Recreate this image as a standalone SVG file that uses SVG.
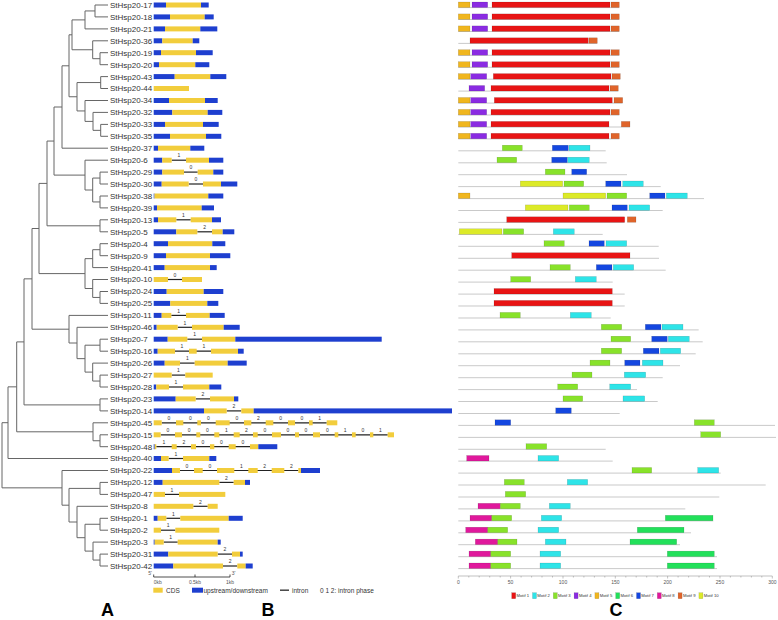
<svg xmlns="http://www.w3.org/2000/svg" width="778" height="620" viewBox="0 0 778 620">
<style>
.lb{font:8px "Liberation Sans",Arial,sans-serif;fill:#333}
.t{fill:none;stroke:#666;stroke-width:1}
.u{fill:#1e3fcf}
.c{fill:#f2cd3c}
.i{stroke:#222;stroke-width:1.2}
.p{font:5px "Liberation Sans",Arial,sans-serif;fill:#333;text-anchor:middle}
.g{stroke:#bbb;stroke-width:0.8}
.m1,.m2,.m3,.m4,.m5,.m6,.m7,.m8,.m9,.m10{stroke:#000;stroke-opacity:.25;stroke-width:.4}
.m1{fill:#e81414}.m2{fill:#2ee4e8}.m3{fill:#88e22a}.m4{fill:#8a2be2}.m5{fill:#f0b61e}
.m6{fill:#22e05a}.m7{fill:#1447e0}.m8{fill:#e0189c}.m9{fill:#e0642a}.m10{fill:#dcea28}
.sm{font:5px "Liberation Sans",Arial,sans-serif;fill:#555}
.lg{font:6.5px "Liberation Sans",Arial,sans-serif;fill:#333}
.lc{font:4.2px "Liberation Sans",Arial,sans-serif;fill:#333}
.big{font:bold 18px "Liberation Sans",Arial,sans-serif;fill:#000;text-anchor:middle}
</style>
<g id="connectors">
<path class="t" d="M95,5V16.9M95,5H108M95,16.9H108
M85,10.95V28.9M85,10.95H95M85,28.9H108
M100,52.7V64.7M100,52.7H108M100,64.7H108
M92.7,40.8V58.7M92.7,40.8H108M92.7,58.7H100
M72,19.9V49.75M72,19.9H85M72,49.75H92.7
M100.7,76.6V88.5M100.7,76.6H108M100.7,88.5H108
M100.7,124.4V136.3M100.7,124.4H108M100.7,136.3H108
M93,112.4V130.35M93,112.4H108M93,130.35H100.7
M85,100.5V121.4M85,100.5H108M85,121.4H93
M77,82.55V110.95M77,82.55H100.7M77,110.95H85
M69,34.8V96.75M69,34.8H72M69,96.75H77
M62,65.8V148.2M62,65.8H69M62,148.2H108
M100,172.1V184M100,172.1H108M100,184H108
M100,196V207.9M100,196H108M100,207.9H108
M92.7,178.05V201.95M92.7,178.05H100M92.7,201.95H100
M85,160.2V190M85,160.2H108M85,190H92.7
M54,107V175.1M54,107H62M54,175.1H85
M100,219.8V231.8M100,219.8H108M100,231.8H108
M47,141.05V225.8M47,141.05H54M47,225.8H100
M100,243.7V255.7M100,243.7H108M100,255.7H108
M92.7,249.7V267.6M92.7,249.7H100M92.7,267.6H108
M100,291.5V303.4M100,291.5H108M100,303.4H108
M92.7,279.5V297.45M92.7,279.5H108M92.7,297.45H100
M85,258.65V288.5M85,258.65H92.7M85,288.5H92.7
M39,183.4V273.6M39,183.4H47M39,273.6H85
M100,339.2V351.2M100,339.2H108M100,351.2H108
M100,375.1V387M100,375.1H108M100,387H108
M92.7,363.1V381.05M92.7,363.1H108M92.7,381.05H100
M85,345.2V372.1M85,345.2H100M85,372.1H92.7
M77,327.3V358.65M77,327.3H108M77,358.65H85
M69,315.4V343M69,315.4H108M69,343H77
M32,228.5V329.2M32,228.5H39M32,329.2H69
M100,398.9V410.9M100,398.9H108M100,410.9H108
M24,278.85V404.9M24,278.85H32M24,404.9H100
M100,434.8V446.7M100,434.8H108M100,446.7H108
M93,422.8V440.75M93,422.8H108M93,440.75H100
M16.7,341.9V431.8M16.7,341.9H24M16.7,431.8H93
M8,386.85V458.5M8,386.85H16.7M8,458.5H108
M100,482.4V494.4M100,482.4H108M100,494.4H108
M100,518.3V530.2M100,518.3H108M100,530.2H108
M100,554.1V566M100,554.1H108M100,566H108
M93,542.1V560.05M93,542.1H108M93,560.05H100
M85,524.25V551.1M85,524.25H100M85,551.1H93
M77,506.3V537.7M77,506.3H108M77,537.7H85
M69,488.4V522M69,488.4H100M69,522H77
M62,470.5V505.2M62,470.5H108M62,505.2H69
M2,422.7V487.85M2,422.7H8M2,487.85H62"/>
</g>

<g id="StHsp20-17" transform="translate(0,5)"><text class="lb" x="110" y="2.9">StHsp20-17</text>
<rect class="u" x="153.7" y="-2.5" width="12.3" height="5"/><rect class="c" x="166" y="-2.5" width="35" height="5"/><rect class="u" x="201" y="-2.5" width="7.7" height="5"/>
<line class="g" x1="458.3" y1="2.6" x2="619.3" y2="2.6"/>
<rect class="m5" x="458.3" y="-3" width="11.7" height="5.5"/><rect class="m4" x="472" y="-3" width="15.7" height="5.5"/><rect class="m1" x="492" y="-3" width="118" height="5.5"/><rect class="m9" x="611" y="-3" width="8.3" height="5.5"/></g>

<g id="StHsp20-18" transform="translate(0,16.9)"><text class="lb" x="110" y="2.9">StHsp20-18</text>
<rect class="u" x="153.7" y="-2.5" width="16.3" height="5"/><rect class="c" x="170" y="-2.5" width="34.7" height="5"/><rect class="u" x="204.7" y="-2.5" width="9" height="5"/>
<line class="g" x1="458.3" y1="2.6" x2="619.3" y2="2.6"/>
<rect class="m5" x="458.3" y="-3" width="11.7" height="5.5"/><rect class="m4" x="472" y="-3" width="15.7" height="5.5"/><rect class="m1" x="492" y="-3" width="118" height="5.5"/><rect class="m9" x="611" y="-3" width="8.3" height="5.5"/></g>

<g id="StHsp20-21" transform="translate(0,28.9)"><text class="lb" x="110" y="2.9">StHsp20-21</text>
<rect class="u" x="153.7" y="-2.5" width="11.3" height="5"/><rect class="c" x="165" y="-2.5" width="35.3" height="5"/><rect class="u" x="200.3" y="-2.5" width="17" height="5"/>
<line class="g" x1="458.3" y1="2.6" x2="619.3" y2="2.6"/>
<rect class="m5" x="458.3" y="-3" width="11.7" height="5.5"/><rect class="m4" x="472" y="-3" width="15.7" height="5.5"/><rect class="m1" x="492" y="-3" width="118" height="5.5"/><rect class="m9" x="611" y="-3" width="8.3" height="5.5"/></g>

<g id="StHsp20-36" transform="translate(0,40.8)"><text class="lb" x="110" y="2.9">StHsp20-36</text>
<rect class="u" x="153.7" y="-2.5" width="8.6" height="5"/><rect class="c" x="162.3" y="-2.5" width="30.4" height="5"/><rect class="u" x="192.7" y="-2.5" width="6.6" height="5"/>
<line class="g" x1="458.3" y1="2.6" x2="597.3" y2="2.6"/>
<rect class="m1" x="470" y="-3" width="118.3" height="5.5"/><rect class="m9" x="589" y="-3" width="8.3" height="5.5"/></g>

<g id="StHsp20-19" transform="translate(0,52.7)"><text class="lb" x="110" y="2.9">StHsp20-19</text>
<rect class="u" x="153.7" y="-2.5" width="7.3" height="5"/><rect class="c" x="161" y="-2.5" width="35" height="5"/><rect class="u" x="196" y="-2.5" width="16.7" height="5"/>
<line class="g" x1="458.3" y1="2.6" x2="619.3" y2="2.6"/>
<rect class="m5" x="458.3" y="-3" width="11.7" height="5.5"/><rect class="m4" x="472" y="-3" width="15.7" height="5.5"/><rect class="m1" x="492" y="-3" width="118" height="5.5"/><rect class="m9" x="611" y="-3" width="8.3" height="5.5"/></g>

<g id="StHsp20-20" transform="translate(0,64.7)"><text class="lb" x="110" y="2.9">StHsp20-20</text>
<rect class="u" x="153.7" y="-2.5" width="5.3" height="5"/><rect class="c" x="159" y="-2.5" width="36.3" height="5"/><rect class="u" x="195.3" y="-2.5" width="14" height="5"/>
<line class="g" x1="458.3" y1="2.6" x2="619.3" y2="2.6"/>
<rect class="m5" x="458.3" y="-3" width="11.7" height="5.5"/><rect class="m4" x="472" y="-3" width="15.7" height="5.5"/><rect class="m1" x="492" y="-3" width="118" height="5.5"/><rect class="m9" x="611" y="-3" width="8.3" height="5.5"/></g>

<g id="StHsp20-43" transform="translate(0,76.6)"><text class="lb" x="110" y="2.9">StHsp20-43</text>
<rect class="u" x="153.7" y="-2.5" width="21" height="5"/><rect class="c" x="174.7" y="-2.5" width="35.6" height="5"/><rect class="u" x="210.3" y="-2.5" width="16" height="5"/>
<line class="g" x1="458.3" y1="2.6" x2="620.3" y2="2.6"/>
<rect class="m5" x="458.3" y="-3" width="11.7" height="5.5"/><rect class="m4" x="470.7" y="-3" width="16" height="5.5"/><rect class="m1" x="493.3" y="-3" width="117.7" height="5.5"/><rect class="m9" x="612" y="-3" width="8.3" height="5.5"/></g>

<g id="StHsp20-44" transform="translate(0,88.5)"><text class="lb" x="110" y="2.9">StHsp20-44</text>
<rect class="c" x="153.7" y="-2.5" width="35.3" height="5"/>
<line class="g" x1="458.3" y1="2.6" x2="618.3" y2="2.6"/>
<rect class="m4" x="469" y="-3" width="15.7" height="5.5"/><rect class="m1" x="491" y="-3" width="118" height="5.5"/><rect class="m9" x="610" y="-3" width="8.3" height="5.5"/></g>

<g id="StHsp20-34" transform="translate(0,100.5)"><text class="lb" x="110" y="2.9">StHsp20-34</text>
<rect class="u" x="153.7" y="-2.5" width="15.3" height="5"/><rect class="c" x="169" y="-2.5" width="36" height="5"/><rect class="u" x="205" y="-2.5" width="12.7" height="5"/>
<line class="g" x1="458.3" y1="2.6" x2="622.7" y2="2.6"/>
<rect class="m5" x="458.3" y="-3" width="11.7" height="5.5"/><rect class="m4" x="470.7" y="-3" width="16" height="5.5"/><rect class="m1" x="494.3" y="-3" width="118" height="5.5"/><rect class="m9" x="614" y="-3" width="8.7" height="5.5"/></g>

<g id="StHsp20-32" transform="translate(0,112.4)"><text class="lb" x="110" y="2.9">StHsp20-32</text>
<rect class="u" x="153.7" y="-2.5" width="18.6" height="5"/><rect class="c" x="172.3" y="-2.5" width="35.4" height="5"/><rect class="u" x="207.7" y="-2.5" width="14.6" height="5"/>
<line class="g" x1="458.3" y1="2.6" x2="619.3" y2="2.6"/>
<rect class="m5" x="458.3" y="-3" width="11.7" height="5.5"/><rect class="m4" x="470.7" y="-3" width="16" height="5.5"/><rect class="m1" x="491" y="-3" width="119" height="5.5"/><rect class="m9" x="611" y="-3" width="8.3" height="5.5"/></g>

<g id="StHsp20-33" transform="translate(0,124.4)"><text class="lb" x="110" y="2.9">StHsp20-33</text>
<rect class="u" x="153.7" y="-2.5" width="11.3" height="5"/><rect class="c" x="165" y="-2.5" width="38" height="5"/><rect class="u" x="203" y="-2.5" width="15.7" height="5"/>
<line class="g" x1="458.3" y1="2.6" x2="630" y2="2.6"/>
<rect class="m5" x="458.3" y="-3" width="11.7" height="5.5"/><rect class="m4" x="470.7" y="-3" width="16" height="5.5"/><rect class="m1" x="491" y="-3" width="118" height="5.5"/><rect class="m9" x="621.3" y="-3" width="8.7" height="5.5"/></g>

<g id="StHsp20-35" transform="translate(0,136.3)"><text class="lb" x="110" y="2.9">StHsp20-35</text>
<rect class="u" x="153.7" y="-2.5" width="16.3" height="5"/><rect class="c" x="170" y="-2.5" width="36" height="5"/><rect class="u" x="206" y="-2.5" width="15.3" height="5"/>
<line class="g" x1="458.3" y1="2.6" x2="619.3" y2="2.6"/>
<rect class="m5" x="458.3" y="-3" width="11.7" height="5.5"/><rect class="m4" x="470.7" y="-3" width="16" height="5.5"/><rect class="m1" x="491" y="-3" width="118" height="5.5"/><rect class="m9" x="611" y="-3" width="8.3" height="5.5"/></g>

<g id="StHsp20-37" transform="translate(0,148.2)"><text class="lb" x="110" y="2.9">StHsp20-37</text>
<rect class="u" x="153.7" y="-2.5" width="4.3" height="5"/><rect class="c" x="158" y="-2.5" width="32.3" height="5"/><rect class="u" x="190.3" y="-2.5" width="14" height="5"/>
<line class="g" x1="458.3" y1="2.6" x2="605.7" y2="2.6"/>
<rect class="m3" x="502.3" y="-3" width="20" height="5.5"/><rect class="m7" x="552.3" y="-3" width="16" height="5.5"/><rect class="m2" x="569" y="-3" width="21" height="5.5"/></g>

<g id="StHsp20-6" transform="translate(0,160.2)"><text class="lb" x="110" y="2.9">StHsp20-6</text>
<line class="i" x1="171.7" y1="0" x2="186" y2="0"/><text class="p" x="178.9" y="-2.8">1</text>
<rect class="u" x="153.7" y="-2.5" width="8.6" height="5"/><rect class="c" x="162.3" y="-2.5" width="9.4" height="5"/><rect class="c" x="186" y="-2.5" width="23" height="5"/><rect class="u" x="209" y="-2.5" width="14.3" height="5"/>
<line class="g" x1="458.3" y1="2.6" x2="606.7" y2="2.6"/>
<rect class="m3" x="497" y="-3" width="19.7" height="5.5"/><rect class="m7" x="551.7" y="-3" width="15.6" height="5.5"/><rect class="m2" x="567.7" y="-3" width="21.6" height="5.5"/></g>

<g id="StHsp20-29" transform="translate(0,172.1)"><text class="lb" x="110" y="2.9">StHsp20-29</text>
<line class="i" x1="184" y1="0" x2="197.7" y2="0"/><text class="p" x="190.9" y="-2.8">0</text>
<rect class="u" x="153.7" y="-2.5" width="8.6" height="5"/><rect class="c" x="162.3" y="-2.5" width="21.7" height="5"/><rect class="c" x="197.7" y="-2.5" width="15.6" height="5"/><rect class="u" x="213.3" y="-2.5" width="10" height="5"/>
<line class="g" x1="458.3" y1="2.6" x2="627" y2="2.6"/>
<rect class="m3" x="545.3" y="-3" width="19.7" height="5.5"/><rect class="m7" x="571.7" y="-3" width="15" height="5.5"/></g>

<g id="StHsp20-30" transform="translate(0,184)"><text class="lb" x="110" y="2.9">StHsp20-30</text>
<line class="i" x1="188.7" y1="0" x2="203" y2="0"/><text class="p" x="195.9" y="-2.8">0</text>
<rect class="u" x="153.7" y="-2.5" width="8" height="5"/><rect class="c" x="161.7" y="-2.5" width="27" height="5"/><rect class="c" x="203" y="-2.5" width="18" height="5"/><rect class="u" x="221" y="-2.5" width="16.3" height="5"/>
<line class="g" x1="458.3" y1="2.6" x2="660.7" y2="2.6"/>
<rect class="m10" x="520.3" y="-3" width="42.4" height="5.5"/><rect class="m3" x="564" y="-3" width="19.7" height="5.5"/><rect class="m7" x="605.7" y="-3" width="15.3" height="5.5"/><rect class="m2" x="622.7" y="-3" width="20.6" height="5.5"/></g>

<g id="StHsp20-38" transform="translate(0,196)"><text class="lb" x="110" y="2.9">StHsp20-38</text>
<rect class="u" x="153.7" y="-2.5" width="0.8" height="5"/><rect class="c" x="154.5" y="-2.5" width="53.8" height="5"/><rect class="u" x="208.3" y="-2.5" width="15" height="5"/>
<line class="g" x1="458.3" y1="2.6" x2="704" y2="2.6"/>
<rect class="m5" x="458.3" y="-3" width="11.7" height="5.5"/><rect class="m10" x="563" y="-3" width="42.7" height="5.5"/><rect class="m3" x="607" y="-3" width="19.7" height="5.5"/><rect class="m7" x="649.7" y="-3" width="15.3" height="5.5"/><rect class="m2" x="666.3" y="-3" width="21" height="5.5"/></g>

<g id="StHsp20-39" transform="translate(0,207.9)"><text class="lb" x="110" y="2.9">StHsp20-39</text>
<rect class="u" x="153.7" y="-2.5" width="3.3" height="5"/><rect class="c" x="157" y="-2.5" width="44.7" height="5"/><rect class="u" x="201.7" y="-2.5" width="12.3" height="5"/>
<line class="g" x1="458.3" y1="2.6" x2="662.7" y2="2.6"/>
<rect class="m10" x="525.3" y="-3" width="42.7" height="5.5"/><rect class="m3" x="569.3" y="-3" width="20" height="5.5"/><rect class="m7" x="612" y="-3" width="15.3" height="5.5"/><rect class="m2" x="629" y="-3" width="20.7" height="5.5"/></g>

<g id="StHsp20-13" transform="translate(0,219.8)"><text class="lb" x="110" y="2.9">StHsp20-13</text>
<line class="i" x1="176.3" y1="0" x2="190.7" y2="0"/><text class="p" x="183.5" y="-2.8">1</text>
<rect class="u" x="153.7" y="-2.5" width="4.3" height="5"/><rect class="c" x="158" y="-2.5" width="18.3" height="5"/><rect class="c" x="190.7" y="-2.5" width="21.3" height="5"/><rect class="u" x="212" y="-2.5" width="9" height="5"/>
<line class="g" x1="458.3" y1="2.6" x2="624.7" y2="2.6"/>
<rect class="m1" x="506.7" y="-3" width="118" height="5.5"/><rect class="m9" x="627.3" y="-3" width="8.7" height="5.5"/></g>

<g id="StHsp20-5" transform="translate(0,231.8)"><text class="lb" x="110" y="2.9">StHsp20-5</text>
<line class="i" x1="197.3" y1="0" x2="212" y2="0"/><text class="p" x="204.7" y="-2.8">2</text>
<rect class="u" x="153.7" y="-2.5" width="22.6" height="5"/><rect class="c" x="176.3" y="-2.5" width="21" height="5"/><rect class="c" x="212" y="-2.5" width="10.7" height="5"/><rect class="u" x="222.7" y="-2.5" width="11.6" height="5"/>
<line class="g" x1="458.3" y1="2.6" x2="602.7" y2="2.6"/>
<rect class="m10" x="459.3" y="-3" width="42.7" height="5.5"/><rect class="m3" x="503.3" y="-3" width="20.4" height="5.5"/><rect class="m2" x="553.3" y="-3" width="21" height="5.5"/></g>

<g id="StHsp20-4" transform="translate(0,243.7)"><text class="lb" x="110" y="2.9">StHsp20-4</text>
<rect class="u" x="153.7" y="-2.5" width="14.3" height="5"/><rect class="c" x="168" y="-2.5" width="44.3" height="5"/><rect class="u" x="212.3" y="-2.5" width="13" height="5"/>
<line class="g" x1="458.3" y1="2.6" x2="658.7" y2="2.6"/>
<rect class="m3" x="544" y="-3" width="20.3" height="5.5"/><rect class="m7" x="589" y="-3" width="15.3" height="5.5"/><rect class="m2" x="606" y="-3" width="20.7" height="5.5"/></g>

<g id="StHsp20-9" transform="translate(0,255.7)"><text class="lb" x="110" y="2.9">StHsp20-9</text>
<rect class="u" x="153.7" y="-2.5" width="12.3" height="5"/><rect class="c" x="166" y="-2.5" width="44" height="5"/><rect class="u" x="210" y="-2.5" width="20.3" height="5"/>
<line class="g" x1="458.3" y1="2.6" x2="659" y2="2.6"/>
<rect class="m1" x="511.7" y="-3" width="118.3" height="5.5"/></g>

<g id="StHsp20-41" transform="translate(0,267.6)"><text class="lb" x="110" y="2.9">StHsp20-41</text>
<rect class="u" x="153.7" y="-2.5" width="11" height="5"/><rect class="c" x="164.7" y="-2.5" width="45.3" height="5"/><rect class="u" x="210" y="-2.5" width="6.7" height="5"/>
<line class="g" x1="458.3" y1="2.6" x2="665.7" y2="2.6"/>
<rect class="m3" x="550" y="-3" width="20.3" height="5.5"/><rect class="m7" x="596.3" y="-3" width="15.7" height="5.5"/><rect class="m2" x="613.3" y="-3" width="20.4" height="5.5"/></g>

<g id="StHsp20-10" transform="translate(0,279.5)"><text class="lb" x="110" y="2.9">StHsp20-10</text>
<line class="i" x1="168" y1="0" x2="182" y2="0"/><text class="p" x="175" y="-2.8">0</text>
<rect class="c" x="153.7" y="-2.5" width="14.3" height="5"/><rect class="c" x="182" y="-2.5" width="20" height="5"/>
<line class="g" x1="458.3" y1="2.6" x2="612.7" y2="2.6"/>
<rect class="m3" x="510.7" y="-3" width="20" height="5.5"/><rect class="m2" x="575.3" y="-3" width="21" height="5.5"/></g>

<g id="StHsp20-24" transform="translate(0,291.5)"><text class="lb" x="110" y="2.9">StHsp20-24</text>
<rect class="u" x="153.7" y="-2.5" width="13" height="5"/><rect class="c" x="166.7" y="-2.5" width="37" height="5"/><rect class="u" x="203.7" y="-2.5" width="19.6" height="5"/>
<line class="g" x1="458.3" y1="2.6" x2="624.7" y2="2.6"/>
<rect class="m1" x="494" y="-3" width="118.3" height="5.5"/></g>

<g id="StHsp20-25" transform="translate(0,303.4)"><text class="lb" x="110" y="2.9">StHsp20-25</text>
<rect class="u" x="153.7" y="-2.5" width="16.6" height="5"/><rect class="c" x="170.3" y="-2.5" width="37" height="5"/><rect class="u" x="207.3" y="-2.5" width="11" height="5"/>
<line class="g" x1="458.3" y1="2.6" x2="624.7" y2="2.6"/>
<rect class="m1" x="494" y="-3" width="118.3" height="5.5"/></g>

<g id="StHsp20-11" transform="translate(0,315.4)"><text class="lb" x="110" y="2.9">StHsp20-11</text>
<line class="i" x1="171.3" y1="0" x2="186" y2="0"/><text class="p" x="178.7" y="-2.8">1</text>
<rect class="u" x="153.7" y="-2.5" width="8" height="5"/><rect class="c" x="161.7" y="-2.5" width="9.6" height="5"/><rect class="c" x="186" y="-2.5" width="23.7" height="5"/><rect class="u" x="209.7" y="-2.5" width="15" height="5"/>
<line class="g" x1="458.3" y1="2.6" x2="610.7" y2="2.6"/>
<rect class="m3" x="500" y="-3" width="20.3" height="5.5"/><rect class="m2" x="570.3" y="-3" width="21" height="5.5"/></g>

<g id="StHsp20-46" transform="translate(0,327.3)"><text class="lb" x="110" y="2.9">StHsp20-46</text>
<line class="i" x1="177.7" y1="0" x2="192" y2="0"/><text class="p" x="184.9" y="-2.8">1</text>
<rect class="u" x="153.7" y="-2.5" width="3" height="5"/><rect class="c" x="156.7" y="-2.5" width="21" height="5"/><rect class="c" x="192" y="-2.5" width="31.7" height="5"/><rect class="u" x="223.7" y="-2.5" width="16" height="5"/>
<line class="g" x1="458.3" y1="2.6" x2="698.7" y2="2.6"/>
<rect class="m3" x="601.3" y="-3" width="20.4" height="5.5"/><rect class="m7" x="645.3" y="-3" width="15.7" height="5.5"/><rect class="m2" x="662" y="-3" width="21" height="5.5"/></g>

<g id="StHsp20-7" transform="translate(0,339.2)"><text class="lb" x="110" y="2.9">StHsp20-7</text>
<line class="i" x1="187.3" y1="0" x2="202" y2="0"/><text class="p" x="194.7" y="-2.8">1</text>
<rect class="u" x="153.7" y="-2.5" width="14" height="5"/><rect class="c" x="167.7" y="-2.5" width="19.6" height="5"/><rect class="c" x="202" y="-2.5" width="33.3" height="5"/><rect class="u" x="235.3" y="-2.5" width="146.4" height="5"/>
<line class="g" x1="458.3" y1="2.6" x2="702.7" y2="2.6"/>
<rect class="m3" x="611" y="-3" width="19.7" height="5.5"/><rect class="m7" x="651.7" y="-3" width="15.6" height="5.5"/><rect class="m2" x="668.3" y="-3" width="21" height="5.5"/></g>

<g id="StHsp20-16" transform="translate(0,351.2)"><text class="lb" x="110" y="2.9">StHsp20-16</text>
<line class="i" x1="175" y1="0" x2="211" y2="0"/><text class="p" x="182" y="-2.8">1</text><text class="p" x="203.9" y="-2.8">1</text>
<rect class="u" x="153.7" y="-2.5" width="4" height="5"/><rect class="c" x="157.7" y="-2.5" width="17.3" height="5"/><rect class="c" x="189" y="-2.5" width="7.7" height="5"/><rect class="c" x="211" y="-2.5" width="27" height="5"/><rect class="u" x="238" y="-2.5" width="5.7" height="5"/>
<line class="g" x1="458.3" y1="2.6" x2="695.7" y2="2.6"/>
<rect class="m3" x="601.3" y="-3" width="20.4" height="5.5"/><rect class="m7" x="643.3" y="-3" width="15.7" height="5.5"/><rect class="m2" x="660.3" y="-3" width="20.4" height="5.5"/></g>

<g id="StHsp20-26" transform="translate(0,363.1)"><text class="lb" x="110" y="2.9">StHsp20-26</text>
<line class="i" x1="180" y1="0" x2="194.7" y2="0"/><text class="p" x="187.4" y="-2.8">1</text>
<rect class="u" x="153.7" y="-2.5" width="11" height="5"/><rect class="c" x="164.7" y="-2.5" width="15.3" height="5"/><rect class="c" x="194.7" y="-2.5" width="33" height="5"/><rect class="u" x="227.7" y="-2.5" width="19" height="5"/>
<line class="g" x1="458.3" y1="2.6" x2="680" y2="2.6"/>
<rect class="m3" x="590" y="-3" width="20" height="5.5"/><rect class="m7" x="624.7" y="-3" width="15.3" height="5.5"/><rect class="m2" x="642.3" y="-3" width="20.7" height="5.5"/></g>

<g id="StHsp20-27" transform="translate(0,375.1)"><text class="lb" x="110" y="2.9">StHsp20-27</text>
<line class="i" x1="171.7" y1="0" x2="185.3" y2="0"/><text class="p" x="178.5" y="-2.8">1</text>
<rect class="c" x="153.7" y="-2.5" width="18" height="5"/><rect class="c" x="185.3" y="-2.5" width="27.4" height="5"/>
<line class="g" x1="458.3" y1="2.6" x2="662.7" y2="2.6"/>
<rect class="m3" x="572" y="-3" width="20" height="5.5"/><rect class="m2" x="624.3" y="-3" width="21.4" height="5.5"/></g>

<g id="StHsp20-28" transform="translate(0,387)"><text class="lb" x="110" y="2.9">StHsp20-28</text>
<line class="i" x1="169" y1="0" x2="183" y2="0"/><text class="p" x="176" y="-2.8">1</text>
<rect class="u" x="153.7" y="-2.5" width="2.6" height="5"/><rect class="c" x="156.3" y="-2.5" width="12.7" height="5"/><rect class="c" x="183" y="-2.5" width="26.3" height="5"/><rect class="u" x="209.3" y="-2.5" width="12" height="5"/>
<line class="g" x1="458.3" y1="2.6" x2="637" y2="2.6"/>
<rect class="m3" x="557.7" y="-3" width="20" height="5.5"/><rect class="m2" x="609.7" y="-3" width="21" height="5.5"/></g>

<g id="StHsp20-23" transform="translate(0,398.9)"><text class="lb" x="110" y="2.9">StHsp20-23</text>
<line class="i" x1="195.7" y1="0" x2="210" y2="0"/><text class="p" x="202.9" y="-2.8">2</text>
<rect class="u" x="153.7" y="-2.5" width="22" height="5"/><rect class="c" x="175.7" y="-2.5" width="20" height="5"/><rect class="c" x="210" y="-2.5" width="24" height="5"/><rect class="u" x="234" y="-2.5" width="4.3" height="5"/>
<line class="g" x1="458.3" y1="2.6" x2="657.7" y2="2.6"/>
<rect class="m3" x="563" y="-3" width="19.7" height="5.5"/><rect class="m2" x="623" y="-3" width="21.7" height="5.5"/></g>

<g id="StHsp20-14" transform="translate(0,410.9)"><text class="lb" x="110" y="2.9">StHsp20-14</text>
<line class="i" x1="226.7" y1="0" x2="241.3" y2="0"/><text class="p" x="234" y="-2.8">2</text>
<rect class="u" x="153.7" y="-2.5" width="50.3" height="5"/><rect class="c" x="204" y="-2.5" width="22.7" height="5"/><rect class="c" x="241.3" y="-2.5" width="12.4" height="5"/><rect class="u" x="253.7" y="-2.5" width="198.3" height="5"/>
<line class="g" x1="458.3" y1="2.6" x2="619.7" y2="2.6"/>
<rect class="m7" x="555.7" y="-3" width="15.6" height="5.5"/></g>

<g id="StHsp20-45" transform="translate(0,422.8)"><text class="lb" x="110" y="2.9">StHsp20-45</text>
<line class="i" x1="161.7" y1="0" x2="326.7" y2="0"/>
<text class="p" x="168.9" y="-2.8">0</text><text class="p" x="190.3" y="-2.8">0</text><text class="p" x="208.4" y="-2.8">0</text><text class="p" x="236.9" y="-2.8">0</text><text class="p" x="258.5" y="-2.8">2</text><text class="p" x="280.7" y="-2.8">0</text><text class="p" x="302" y="-2.8">0</text><text class="p" x="319.7" y="-2.8">1</text>
<rect class="c" x="153.7" y="-2.5" width="8" height="5"/><rect class="c" x="176" y="-2.5" width="7.3" height="5"/><rect class="c" x="197.3" y="-2.5" width="3.7" height="5"/><rect class="c" x="215.7" y="-2.5" width="14" height="5"/><rect class="c" x="244" y="-2.5" width="7.3" height="5"/><rect class="c" x="265.7" y="-2.5" width="7.6" height="5"/><rect class="c" x="288" y="-2.5" width="7" height="5"/><rect class="c" x="309" y="-2.5" width="3.7" height="5"/><rect class="c" x="326.7" y="-2.5" width="10.6" height="5"/>
<line class="g" x1="458.3" y1="2.6" x2="775" y2="2.6"/>
<rect class="m7" x="495" y="-3" width="15.7" height="5.5"/><rect class="m3" x="694.3" y="-3" width="20" height="5.5"/></g>

<g id="StHsp20-15" transform="translate(0,434.8)"><text class="lb" x="110" y="2.9">StHsp20-15</text>
<line class="i" x1="160.7" y1="0" x2="387.7" y2="0"/>
<text class="p" x="167.9" y="-2.8">0</text><text class="p" x="189.2" y="-2.8">0</text><text class="p" x="207.3" y="-2.8">0</text><text class="p" x="226.5" y="-2.8">1</text><text class="p" x="246.4" y="-2.8">2</text><text class="p" x="264.9" y="-2.8">0</text><text class="p" x="288" y="-2.8">0</text><text class="p" x="306" y="-2.8">0</text><text class="p" x="327.4" y="-2.8">0</text><text class="p" x="345.2" y="-2.8">1</text><text class="p" x="362.9" y="-2.8">0</text><text class="p" x="380.5" y="-2.8">1</text>
<rect class="c" x="153.7" y="-2.5" width="7" height="5"/><rect class="c" x="175" y="-2.5" width="7" height="5"/><rect class="c" x="196.3" y="-2.5" width="4" height="5"/><rect class="c" x="214.3" y="-2.5" width="5" height="5"/><rect class="c" x="233.7" y="-2.5" width="6" height="5"/><rect class="c" x="253" y="-2.5" width="4.7" height="5"/><rect class="c" x="272" y="-2.5" width="9" height="5"/><rect class="c" x="295" y="-2.5" width="4" height="5"/><rect class="c" x="313" y="-2.5" width="7" height="5"/><rect class="c" x="334.7" y="-2.5" width="3.6" height="5"/><rect class="c" x="352" y="-2.5" width="3.7" height="5"/><rect class="c" x="370" y="-2.5" width="3.3" height="5"/><rect class="c" x="387.7" y="-2.5" width="6.3" height="5"/>
<line class="g" x1="458.3" y1="2.6" x2="776" y2="2.6"/>
<rect class="m3" x="700.7" y="-3" width="20" height="5.5"/></g>

<g id="StHsp20-48" transform="translate(0,446.7)"><text class="lb" x="110" y="2.9">StHsp20-48</text>
<line class="i" x1="156.3" y1="0" x2="250" y2="0"/>
<text class="p" x="164" y="-2.8">1</text><text class="p" x="183.9" y="-2.8">2</text><text class="p" x="203" y="-2.8">0</text><text class="p" x="221.5" y="-2.8">0</text><text class="p" x="242.9" y="-2.8">0</text>
<rect class="u" x="153.7" y="-2.5" width="1" height="5"/><rect class="c" x="154.7" y="-2.5" width="1.6" height="5"/><rect class="c" x="171.7" y="-2.5" width="5" height="5"/><rect class="c" x="191" y="-2.5" width="5" height="5"/><rect class="c" x="210" y="-2.5" width="4.3" height="5"/><rect class="c" x="228.7" y="-2.5" width="7" height="5"/><rect class="c" x="250" y="-2.5" width="8.3" height="5"/><rect class="u" x="258.3" y="-2.5" width="19" height="5"/>
<line class="g" x1="458.3" y1="2.6" x2="605.7" y2="2.6"/>
<rect class="m3" x="526" y="-3" width="20.7" height="5.5"/></g>

<g id="StHsp20-40" transform="translate(0,458.5)"><text class="lb" x="110" y="2.9">StHsp20-40</text>
<line class="i" x1="168.7" y1="0" x2="183" y2="0"/><text class="p" x="175.9" y="-2.8">1</text>
<rect class="u" x="153.7" y="-2.5" width="7.3" height="5"/><rect class="c" x="161" y="-2.5" width="7.7" height="5"/><rect class="c" x="183" y="-2.5" width="26.3" height="5"/><rect class="u" x="209.3" y="-2.5" width="7" height="5"/>
<line class="g" x1="458.3" y1="2.6" x2="612.7" y2="2.6"/>
<rect class="m8" x="466.7" y="-3" width="22.3" height="5.5"/><rect class="m2" x="538" y="-3" width="20.7" height="5.5"/></g>

<g id="StHsp20-22" transform="translate(0,470.5)"><text class="lb" x="110" y="2.9">StHsp20-22</text>
<line class="i" x1="180" y1="0" x2="298.3" y2="0"/>
<text class="p" x="187" y="-2.8">0</text><text class="p" x="209.9" y="-2.8">0</text><text class="p" x="241.3" y="-2.8">1</text><text class="p" x="264.7" y="-2.8">2</text><text class="p" x="291.3" y="-2.8">2</text>
<rect class="u" x="153.7" y="-2.5" width="18.3" height="5"/><rect class="c" x="172" y="-2.5" width="8" height="5"/><rect class="c" x="194" y="-2.5" width="8.7" height="5"/><rect class="c" x="217" y="-2.5" width="17.3" height="5"/><rect class="c" x="248.3" y="-2.5" width="9.4" height="5"/><rect class="c" x="271.7" y="-2.5" width="12.6" height="5"/><rect class="c" x="298.3" y="-2.5" width="2.7" height="5"/><rect class="u" x="301" y="-2.5" width="19" height="5"/>
<line class="g" x1="458.3" y1="2.6" x2="720.7" y2="2.6"/>
<rect class="m3" x="632" y="-3" width="19.7" height="5.5"/><rect class="m2" x="697.7" y="-3" width="21" height="5.5"/></g>

<g id="StHsp20-12" transform="translate(0,482.4)"><text class="lb" x="110" y="2.9">StHsp20-12</text>
<line class="i" x1="219.3" y1="0" x2="233.7" y2="0"/><text class="p" x="226.5" y="-2.8">2</text>
<rect class="u" x="153.7" y="-2.5" width="9" height="5"/><rect class="c" x="162.7" y="-2.5" width="56.6" height="5"/><rect class="c" x="233.7" y="-2.5" width="11.3" height="5"/><rect class="u" x="245" y="-2.5" width="5" height="5"/>
<line class="g" x1="458.3" y1="2.6" x2="765.7" y2="2.6"/>
<rect class="m3" x="504.3" y="-3" width="20" height="5.5"/><rect class="m2" x="567.3" y="-3" width="20.4" height="5.5"/></g>

<g id="StHsp20-47" transform="translate(0,494.4)"><text class="lb" x="110" y="2.9">StHsp20-47</text>
<line class="i" x1="165" y1="0" x2="179" y2="0"/><text class="p" x="172" y="-2.8">1</text>
<rect class="c" x="153.7" y="-2.5" width="11.3" height="5"/><rect class="c" x="179" y="-2.5" width="46.3" height="5"/>
<line class="g" x1="458.3" y1="2.6" x2="719.3" y2="2.6"/>
<rect class="m3" x="505.3" y="-3" width="20.4" height="5.5"/></g>

<g id="StHsp20-8" transform="translate(0,506.3)"><text class="lb" x="110" y="2.9">StHsp20-8</text>
<line class="i" x1="193.3" y1="0" x2="207.7" y2="0"/><text class="p" x="200.5" y="-2.8">2</text>
<rect class="c" x="153.7" y="-2.5" width="39.6" height="5"/><rect class="c" x="207.7" y="-2.5" width="10" height="5"/>
<line class="g" x1="458.3" y1="2.6" x2="685.3" y2="2.6"/>
<rect class="m8" x="478" y="-3" width="22.3" height="5.5"/><rect class="m3" x="500.3" y="-3" width="20" height="5.5"/><rect class="m2" x="549.3" y="-3" width="21" height="5.5"/></g>

<g id="StHsp20-1" transform="translate(0,518.3)"><text class="lb" x="110" y="2.9">StHsp20-1</text>
<line class="i" x1="166.3" y1="0" x2="180.3" y2="0"/><text class="p" x="173.3" y="-2.8">1</text>
<rect class="u" x="153.7" y="-2.5" width="4" height="5"/><rect class="c" x="157.7" y="-2.5" width="8.6" height="5"/><rect class="c" x="180.3" y="-2.5" width="48.4" height="5"/><rect class="u" x="228.7" y="-2.5" width="14" height="5"/>
<line class="g" x1="458.3" y1="2.6" x2="713.3" y2="2.6"/>
<rect class="m8" x="470" y="-3" width="21.7" height="5.5"/><rect class="m3" x="491.7" y="-3" width="20" height="5.5"/><rect class="m2" x="541.3" y="-3" width="20.4" height="5.5"/><rect class="m6" x="665.3" y="-3" width="47.7" height="5.5"/></g>

<g id="StHsp20-2" transform="translate(0,530.2)"><text class="lb" x="110" y="2.9">StHsp20-2</text>
<line class="i" x1="161" y1="0" x2="175.3" y2="0"/><text class="p" x="168.2" y="-2.8">1</text>
<rect class="c" x="153.7" y="-2.5" width="7.3" height="5"/><rect class="c" x="175.3" y="-2.5" width="44" height="5"/>
<line class="g" x1="458.3" y1="2.6" x2="691" y2="2.6"/>
<rect class="m8" x="465.7" y="-3" width="22" height="5.5"/><rect class="m3" x="487.7" y="-3" width="20" height="5.5"/><rect class="m2" x="538" y="-3" width="20.7" height="5.5"/><rect class="m6" x="637.3" y="-3" width="46.7" height="5.5"/></g>

<g id="StHsp20-3" transform="translate(0,542.1)"><text class="lb" x="110" y="2.9">StHsp20-3</text>
<line class="i" x1="163.7" y1="0" x2="177.7" y2="0"/><text class="p" x="170.7" y="-2.8">1</text>
<rect class="u" x="153.7" y="-2.5" width="1" height="5"/><rect class="c" x="154.7" y="-2.5" width="9" height="5"/><rect class="c" x="177.7" y="-2.5" width="40" height="5"/><rect class="u" x="217.7" y="-2.5" width="3" height="5"/>
<line class="g" x1="458.3" y1="2.6" x2="680" y2="2.6"/>
<rect class="m8" x="475.3" y="-3" width="22.4" height="5.5"/><rect class="m3" x="497.7" y="-3" width="19.3" height="5.5"/><rect class="m2" x="545.3" y="-3" width="20.7" height="5.5"/><rect class="m6" x="630" y="-3" width="46.7" height="5.5"/></g>

<g id="StHsp20-31" transform="translate(0,554.1)"><text class="lb" x="110" y="2.9">StHsp20-31</text>
<line class="i" x1="217.7" y1="0" x2="232" y2="0"/><text class="p" x="224.9" y="-2.8">2</text>
<rect class="u" x="153.7" y="-2.5" width="14.6" height="5"/><rect class="c" x="168.3" y="-2.5" width="49.4" height="5"/><rect class="c" x="232" y="-2.5" width="8" height="5"/><rect class="u" x="240" y="-2.5" width="2.7" height="5"/>
<line class="g" x1="458.3" y1="2.6" x2="717" y2="2.6"/>
<rect class="m8" x="469" y="-3" width="21.7" height="5.5"/><rect class="m3" x="490.7" y="-3" width="20" height="5.5"/><rect class="m2" x="540" y="-3" width="20.7" height="5.5"/><rect class="m6" x="667.3" y="-3" width="47" height="5.5"/></g>

<g id="StHsp20-42" transform="translate(0,566)"><text class="lb" x="110" y="2.9">StHsp20-42</text>
<line class="i" x1="223" y1="0" x2="237.3" y2="0"/><text class="p" x="230.2" y="-2.8">2</text>
<rect class="u" x="153.7" y="-2.5" width="19.6" height="5"/><rect class="c" x="173.3" y="-2.5" width="49.7" height="5"/><rect class="c" x="237.3" y="-2.5" width="8.4" height="5"/><rect class="u" x="245.7" y="-2.5" width="7" height="5"/>
<line class="g" x1="458.3" y1="2.6" x2="717" y2="2.6"/>
<rect class="m8" x="469" y="-3" width="21.7" height="5.5"/><rect class="m3" x="490.7" y="-3" width="20" height="5.5"/><rect class="m2" x="540" y="-3" width="20.7" height="5.5"/><rect class="m6" x="667.3" y="-3" width="47" height="5.5"/></g>

<g id="scale-b">
<path d="M153.7,577H230M153.7,577v-2.5M195,577v-2.5M230,577v-2.5" stroke="#222" stroke-width="0.8" fill="none"/>
<text class="sm" x="150" y="575" text-anchor="middle">5'</text>
<text class="sm" x="233.5" y="575" text-anchor="middle">3'</text>
<text class="sm" x="153.7" y="584">0kb</text>
<text class="sm" x="195" y="584" text-anchor="middle">0.5kb</text>
<text class="sm" x="230" y="584" text-anchor="middle">1kb</text>
</g>
<g id="legend-b">
<rect class="c" x="153.3" y="587.7" width="9.4" height="5"/><text class="lg" x="166" y="592.6">CDS</text>
<rect class="u" x="192" y="587.7" width="11" height="5"/><text class="lg" x="203.5" y="592.6">upstream/downstream</text>
<line x1="280" y1="590.2" x2="289" y2="590.2" stroke="#444" stroke-width="1.5"/><text class="lg" x="292" y="592.6">intron</text>
<text class="lg" x="320" y="592.6">0 1 2: intron phase</text>
</g>
<g id="axis-c">
<path d="M458.3,576H772.3" stroke="#999" stroke-width="0.6"/>
<path d="M458.3,576v2.5M468.8,576v1.5M479.2,576v1.5M489.7,576v1.5M500.2,576v1.5M510.6,576v2.5M521.1,576v1.5M531.6,576v1.5M542,576v1.5M552.5,576v1.5M563,576v2.5M573.4,576v1.5M583.9,576v1.5M594.4,576v1.5M604.8,576v1.5M615.3,576v2.5M625.8,576v1.5M636.2,576v1.5M646.7,576v1.5M657.2,576v1.5M667.6,576v2.5M678.1,576v1.5M688.6,576v1.5M699,576v1.5M709.5,576v1.5M720,576v2.5M730.4,576v1.5M740.9,576v1.5M751.4,576v1.5M761.8,576v1.5M772.3,576v2.5" stroke="#999" stroke-width="0.6"/>
<g class="sm" text-anchor="middle">
<text x="458.3" y="584">0</text><text x="510.6" y="584">50</text><text x="563" y="584">100</text><text x="615.3" y="584">150</text><text x="667.6" y="584">200</text><text x="720" y="584">250</text><text x="772.3" y="584">300</text>
</g>
</g>
<g id="legend-c">
<rect class="m1" x="511.7" y="592.7" width="4" height="6"/><text class="lc" x="516.5" y="597.4">Motif 1</text>
<rect class="m2" x="532.5" y="592.7" width="4" height="6"/><text class="lc" x="537.3" y="597.4">Motif 2</text>
<rect class="m3" x="553.3" y="592.7" width="4" height="6"/><text class="lc" x="558.1" y="597.4">Motif 3</text>
<rect class="m4" x="574.1" y="592.7" width="4" height="6"/><text class="lc" x="578.9" y="597.4">Motif 4</text>
<rect class="m5" x="594.9" y="592.7" width="4" height="6"/><text class="lc" x="599.7" y="597.4">Motif 5</text>
<rect class="m6" x="615.7" y="592.7" width="4" height="6"/><text class="lc" x="620.5" y="597.4">Motif 6</text>
<rect class="m7" x="636.5" y="592.7" width="4" height="6"/><text class="lc" x="641.3" y="597.4">Motif 7</text>
<rect class="m8" x="657.3" y="592.7" width="4" height="6"/><text class="lc" x="662.1" y="597.4">Motif 8</text>
<rect class="m9" x="678.1" y="592.7" width="4" height="6"/><text class="lc" x="682.9" y="597.4">Motif 9</text>
<rect class="m10" x="698.9" y="592.7" width="4" height="6"/><text class="lc" x="703.7" y="597.4">Motif 10</text>
</g>
<text class="big" x="107.5" y="616">A</text>
<text class="big" x="268" y="616">B</text>
<text class="big" x="616" y="616">C</text>
</svg>
